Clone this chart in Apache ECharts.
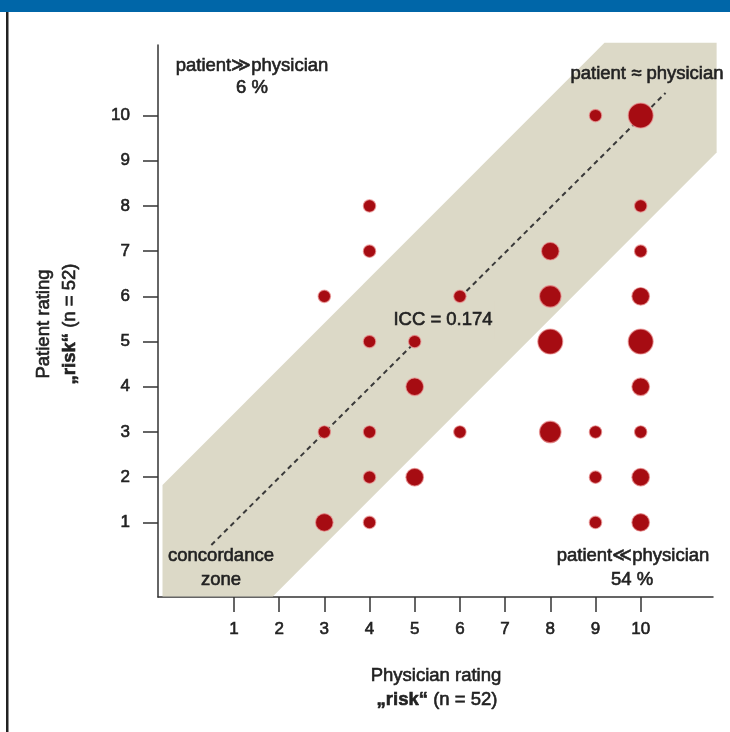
<!DOCTYPE html>
<html>
<head>
<meta charset="utf-8">
<script src="https://cdn.jsdelivr.net/npm/echarts@6/dist/echarts.min.js"></script>
<style>
  html, body { margin: 0; padding: 0; background: #fff; }
  #main { width: 730px; height: 732px; }
</style>
</head>
<body>
<div id="main"></div>
<script>
// ratings (physician = x, patient = y) and number of patients per cell
var physician = [3, 3, 3, 4, 4, 4, 4, 4, 4, 5, 5, 5, 6, 6, 8, 8, 8, 8, 9, 9, 9, 9, 10, 10, 10, 10, 10, 10, 10, 10, 10];
var patient   = [6, 3, 1, 8, 7, 5, 3, 2, 1, 5, 4, 2, 6, 3, 7, 6, 5, 3, 10, 3, 2, 1, 10, 8, 7, 6, 5, 4, 3, 2, 1];
var counts    = [1, 1, 2, 1, 1, 1, 1, 1, 1, 1, 2, 2, 1, 1, 2, 3, 4, 3, 1, 1, 1, 1, 4, 1, 1, 2, 4, 2, 1, 2, 2];

var ticks = [1, 2, 3, 4, 5, 6, 7, 8, 9, 10];

// concordance zone outline
var bandX = [-0.58, 1.86, 11.68, 11.68, 9.2, -0.58];
var bandY = [-0.64, -0.64, 9.18, 11.61, 11.61, 1.83];

// diagonal patient = physician
var diagX = [0.5, 10.55];
var diagY = [0.5, 10.5];

var FONT = '"Liberation Sans", Arial, sans-serif';
var TXT = '#222';
var BAND = '#dcd9c7';

var points = physician.map(function (x, i) { return [x, patient[i], counts[i]]; });

var myChart = echarts.init(document.getElementById('main'));

function axisCommon(extra) {
    var a = {
        type: 'value',
        axisLine: { show: true, onZero: false, lineStyle: { color: '#333', width: 1.5 } },
        axisTick: { show: true, customValues: ticks, length: 15, lineStyle: { color: '#333', width: 1.5 } },
        axisLabel: {
            customValues: ticks, fontSize: 17, color: TXT, fontFamily: FONT,
            textBorderColor: TXT, textBorderWidth: 0.6
        },
        splitLine: { show: false }
    };
    return Object.assign(a, extra);
}

var x = axisCommon({ min: -0.68, max: 11.6 });
x.axisLabel.margin = 24;
var y = axisCommon({ min: -0.65, max: 11.56 });
y.axisLabel.margin = 28;

function label(t, px, py, opt) {
    opt = opt || {};
    var size = opt.size || 18.5;
    var el = {
        type: 'text', x: px, y: py, rotation: opt.rot || 0, z: opt.z || 100,
        style: {
            text: t, fill: TXT, align: 'center', verticalAlign: 'middle',
            font: size + 'px ' + FONT,
            stroke: TXT, lineWidth: 0.6,
            rich: { b: { fontWeight: 'bold', fontSize: size, fontFamily: FONT, fill: TXT } }
        }
    };
    if (opt.bg) {
        el.style.backgroundColor = opt.bg;
        el.style.padding = [10, 2];
    }
    return el;
}

var option = {
    animation: false,
    grid: { left: 158, right: 17, top: 45, bottom: 135 },
    xAxis: x,
    yAxis: y,
    graphic: [
        { type: 'rect', shape: { x: 0, y: 0, width: 730, height: 12 }, style: { fill: '#0066a8' } },
        { type: 'text', x: 23, y: 4, style: { text: 'FIGURE 2', fill: '#fff', font: 'bold 16px ' + FONT, verticalAlign: 'bottom' } },
        { type: 'rect', shape: { x: 6, y: 12, width: 2.5, height: 720 }, style: { fill: '#222' } },
        label('patient\u226Bphysician', 252, 66),
        label('6 %', 252, 88),
        label('patient \u2248 physician', 647, 74),
        label('ICC = 0.174', 443, 320, { bg: BAND, z: 3 }),
        label('concordance', 221, 556),
        label('zone', 221, 580),
        label('patient\u226Aphysician', 633, 556),
        label('54 %', 632, 580),
        label('Physician rating', 436, 676),
        label('{b|\u201Erisk\u201C} (n = 52)', 437, 700),
        label('Patient rating', 44, 324, { rot: Math.PI / 2 }),
        label('{b|\u201Erisk\u201C} (n = 52)', 70, 324, { rot: Math.PI / 2 })
    ],
    series: [
        {
            type: 'custom',
            z: 1,
            silent: true,
            data: [[bandX[0], bandY[0]]],
            renderItem: function (params, api) {
                var pts = bandX.map(function (bx, i) { return api.coord([bx, bandY[i]]); });
                return { type: 'polygon', shape: { points: pts }, style: { fill: BAND } };
            }
        },
        {
            type: 'line',
            z: 2,
            symbol: 'none',
            data: diagX.map(function (dx, i) { return [dx, diagY[i]]; }),
            lineStyle: { color: '#3a3a3a', width: 2, type: [5, 4] }
        },
        {
            type: 'scatter',
            z: 4,
            data: points,
            symbolSize: function (v) { return 12.5 * Math.sqrt(v[2]); },
            itemStyle: { color: '#a60c12', borderColor: 'rgba(235,150,150,0.7)', borderWidth: 1.2, opacity: 1 }
        }
    ]
};

myChart.setOption(option);
</script>
</body>
</html>
